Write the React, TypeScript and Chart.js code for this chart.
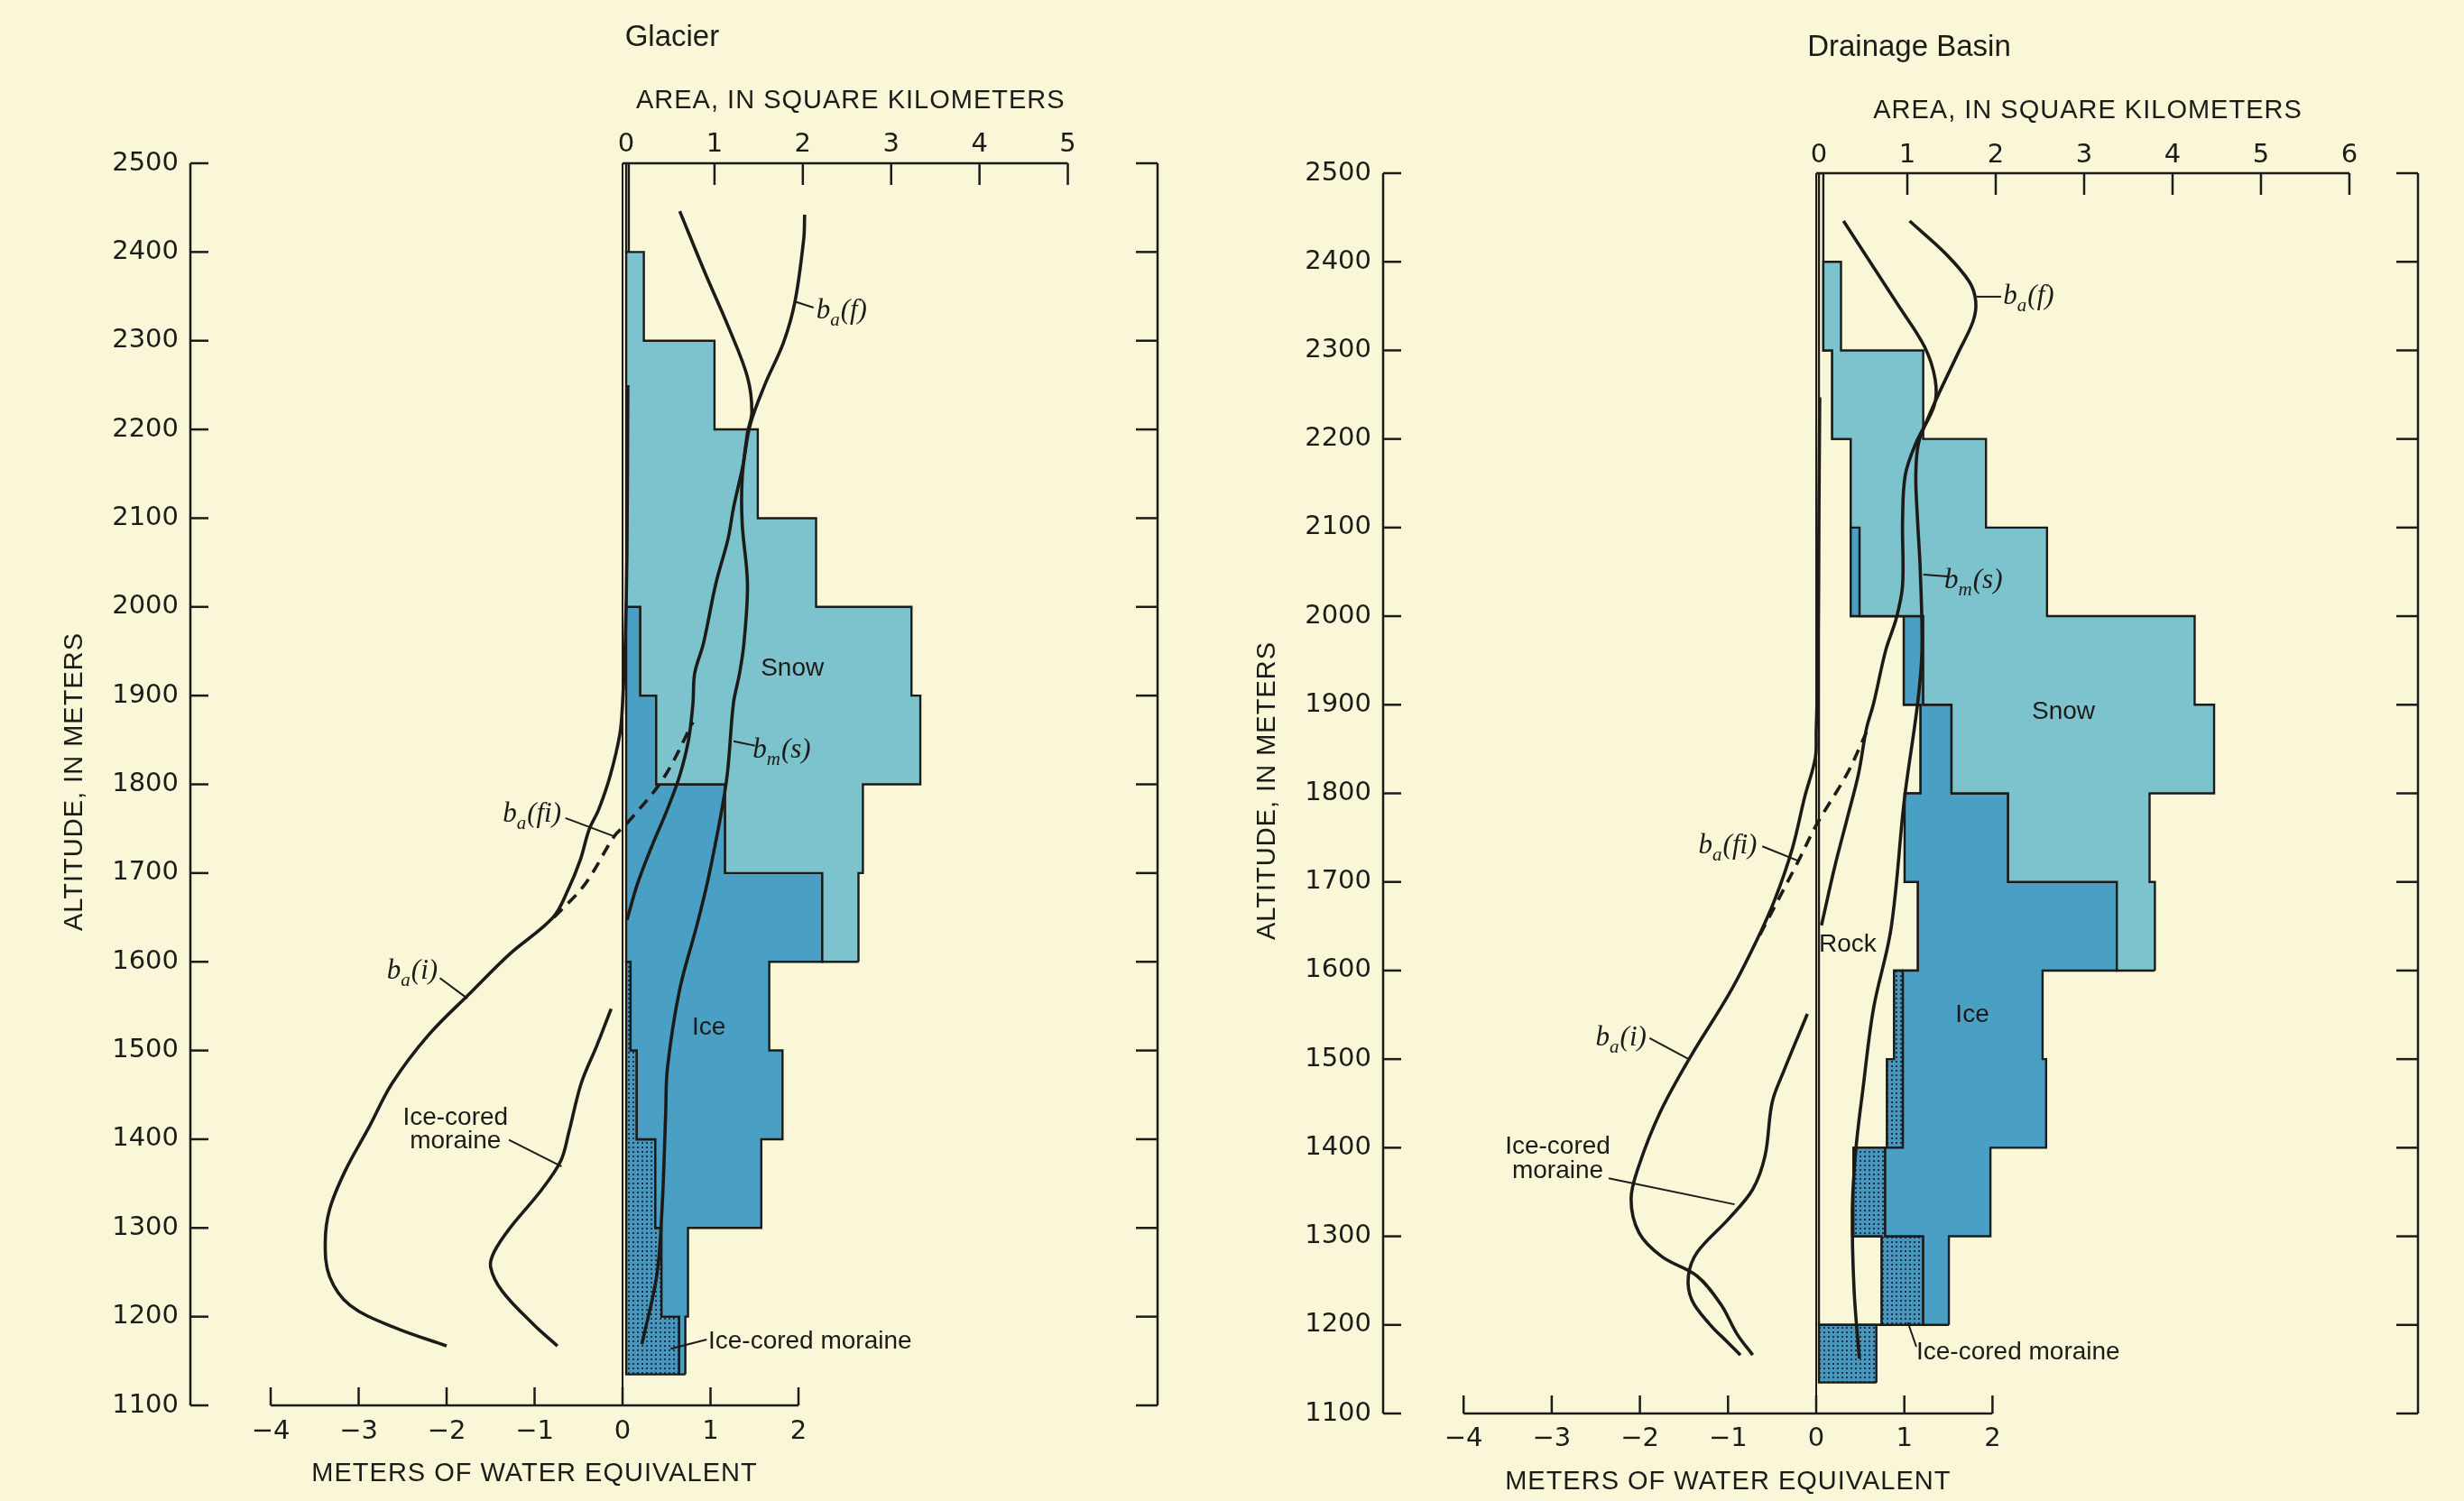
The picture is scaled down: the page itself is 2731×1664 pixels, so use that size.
import React, { useEffect, useRef } from 'react';
import { Chart, registerables } from 'chart.js';

Chart.register(...registerables);

type Pt = [number, number];

// ---------- DATA ----------
// Altitude bands (m)
const BAND_LO = [1135, 1200, 1300, 1400, 1500, 1600, 1700, 1800, 1900, 2000, 2100, 2200, 2300, 2400];
const BAND_HI = [1200, 1300, 1400, 1500, 1600, 1700, 1800, 1900, 2000, 2100, 2200, 2300, 2400, 2500];

// Tick labels
const ALT_TICKS = [1100, 1200, 1300, 1400, 1500, 1600, 1700, 1800, 1900, 2000, 2100, 2200, 2300, 2400, 2500];
const GL_AREA_TICKS = [0, 1, 2, 3, 4, 5];
const DB_AREA_TICKS = [0, 1, 2, 3, 4, 5, 6];
const MWE_TICKS = [-4, -3, -2, -1, 0, 1, 2];

// Glacier: area (km²) per band, stacked from 0
const GL_ROCK = [0, 0, 0, 0, 0, 0, 0, 0, 0, 0, 0, 0, 0, 0.03];
const GL_MORAINE = [0.6, 0.4, 0.33, 0.12, 0.05, 0, 0, 0, 0, 0, 0, 0, 0, 0];
const GL_ICE = [0.07, 0.3, 1.2, 1.65, 1.57, 2.22, 1.12, 0.34, 0.16, 0, 0, 0, 0, 0];
const GL_SNOW = [0, 0, 0, 0, 0, 0.41, 1.56, 2.99, 3.07, 2.15, 1.49, 1.0, 0.2, 0];

// Drainage basin: area (km²) per band, stacked from 0
const DB_ROCK = [0, 0.71, 0.39, 0.77, 0.85, 1.12, 0.97, 1.15, 0.96, 0.36, 0.36, 0.15, 0.05, 0.05];
const DB_MORAINE = [0.65, 0.47, 0.36, 0.18, 0.1, 0, 0, 0, 0, 0, 0, 0, 0, 0];
const DB_ICE = [0, 0.29, 1.19, 1.62, 1.58, 2.25, 1.17, 0.35, 0.22, 0.1, 0, 0, 0, 0];
const DB_SNOW = [0, 0, 0, 0, 0, 0.43, 1.6, 2.97, 3.07, 2.12, 1.53, 1.03, 0.2, 0];

// Glacier balance curves: [meters water equivalent, altitude]
const GL_BA_I: Pt[] = [[-2.0, 1167], [-2.6, 1188], [-3.1, 1213], [-3.33, 1245], [-3.38, 1283], [-3.33, 1321], [-3.15, 1365], [-2.88, 1414], [-2.62, 1463], [-2.21, 1517], [-1.72, 1566], [-1.28, 1609], [-0.79, 1650], [-0.62, 1681], [-0.48, 1715], [-0.38, 1749], [-0.27, 1772], [-0.14, 1810], [-0.03, 1857], [0.0, 1891], [0.03, 1960], [0.05, 2060], [0.06, 2250]];
const GL_BA_FI: Pt[] = [[-0.78, 1650], [-0.43, 1687], [-0.09, 1742], [0.05, 1756], [0.46, 1806], [0.8, 1870]];
const GL_BA_F: Pt[] = [[2.07, 2442], [2.06, 2415], [1.96, 2344], [1.83, 2298], [1.62, 2251], [1.45, 2205], [1.37, 2160], [1.26, 2111], [1.2, 2077], [1.06, 2026], [0.92, 1959], [0.82, 1925], [0.8, 1891], [0.75, 1850], [0.65, 1810], [0.51, 1772], [0.34, 1732], [0.17, 1688], [0.05, 1647]];
const GL_BM_S: Pt[] = [[0.65, 2446], [0.94, 2376], [1.21, 2314], [1.42, 2259], [1.47, 2220], [1.42, 2196], [1.36, 2145], [1.36, 2094], [1.42, 2026], [1.38, 1959], [1.33, 1925], [1.26, 1891], [1.18, 1803], [0.99, 1701], [0.85, 1643], [0.65, 1569], [0.51, 1480], [0.49, 1428], [0.45, 1324], [0.39, 1247], [0.22, 1169]];
const GL_MORAINE_CURVE: Pt[] = [[-0.74, 1167], [-1.01, 1191], [-1.37, 1229], [-1.5, 1256], [-1.46, 1273], [-1.28, 1300], [-0.92, 1343], [-0.7, 1376], [-0.61, 1408], [-0.47, 1463], [-0.29, 1506], [-0.13, 1547]];

// Drainage basin balance curves: [meters water equivalent, altitude]
const DB_BA_I: Pt[] = [[0.04, 2247], [0.03, 2100], [0.02, 1950], [0.0, 1870], [-0.01, 1840], [-0.13, 1796], [-0.27, 1738], [-0.47, 1680], [-0.68, 1633], [-0.98, 1575], [-1.43, 1502], [-1.77, 1440], [-2.01, 1380], [-2.1, 1342], [-2.01, 1304], [-1.75, 1277], [-1.35, 1255], [-1.08, 1223], [-0.9, 1190], [-0.72, 1166]];
const DB_BA_FI: Pt[] = [[-0.64, 1640], [-0.2, 1724], [0.0, 1764], [0.35, 1822], [0.57, 1869]];
const DB_BM_S: Pt[] = [[0.31, 2446], [0.93, 2351], [1.23, 2304], [1.35, 2267], [1.34, 2238], [1.13, 2195], [1.01, 2159], [0.98, 2108], [0.98, 2035], [0.91, 1998], [0.79, 1962], [0.65, 1901], [0.57, 1873], [0.48, 1822], [0.35, 1771], [0.21, 1717], [0.06, 1651]];
const DB_BA_F: Pt[] = [[1.06, 2446], [1.47, 2409], [1.74, 2377], [1.81, 2355], [1.78, 2333], [1.61, 2297], [1.4, 2253], [1.27, 2224], [1.16, 2195], [1.13, 2159], [1.15, 2108], [1.18, 2053], [1.2, 1962], [1.15, 1901], [1.0, 1793], [0.85, 1648], [0.65, 1557], [0.53, 1466], [0.45, 1398], [0.41, 1330], [0.43, 1239], [0.49, 1162]];
const DB_MORAINE_CURVE: Pt[] = [[-0.1, 1551], [-0.37, 1486], [-0.5, 1451], [-0.58, 1391], [-0.72, 1353], [-0.99, 1320], [-1.35, 1282], [-1.45, 1255], [-1.41, 1228], [-1.21, 1201], [-0.99, 1179], [-0.86, 1166]];

// Annotations (in meters / altitude units)
type Word = { text: string; m: number; alt: number; align?: CanvasTextAlign };
type Sym = { sub: string; arg: string; m: number; alt: number };
const GL_WORDS: Word[] = [
  { text: 'Snow', m: 1.93, alt: 1930 },
  { text: 'Ice', m: 0.98, alt: 1526 },
  { text: 'Ice-cored', m: -1.9, alt: 1424 },
  { text: 'moraine', m: -1.9, alt: 1397.5 },
  { text: 'Ice-cored moraine', m: 0.974, alt: 1172, align: 'left' },
];
const GL_SYMBOLS: Sym[] = [
  { sub: 'a', arg: '(i)', m: -2.39, alt: 1589 },
  { sub: 'a', arg: '(fi)', m: -1.03, alt: 1766 },
  { sub: 'a', arg: '(f)', m: 2.49, alt: 2333 },
  { sub: 'm', arg: '(s)', m: 1.81, alt: 1838 },
];
const GL_LEADERS: [Pt, Pt][] = [
  [[-2.077, 1581.7], [-1.764, 1558.7]],
  [[-0.649, 1762], [-0.103, 1741.7]],
  [[1.949, 2344.4], [2.171, 2337.3]],
  [[1.262, 1848.6], [1.505, 1843.6]],
  [[-1.292, 1399.2], [-0.693, 1369.4]],
  [[0.547, 1163.8], [0.957, 1174.2]],
];
const DB_WORDS: Word[] = [
  { text: 'Snow', m: 2.805, alt: 1892 },
  { text: 'Ice', m: 1.771, alt: 1550 },
  { text: 'Rock', m: 0.358, alt: 1629 },
  { text: 'Ice-cored', m: -2.932, alt: 1401 },
  { text: 'moraine', m: -2.932, alt: 1374 },
  { text: 'Ice-cored moraine', m: 1.136, alt: 1168.6, align: 'left' },
];
const DB_SYMBOLS: Sym[] = [
  { sub: 'a', arg: '(f)', m: 2.41, alt: 2360.6 },
  { sub: 'm', arg: '(s)', m: 1.784, alt: 2040 },
  { sub: 'a', arg: '(fi)', m: -1.003, alt: 1740 },
  { sub: 'a', arg: '(i)', m: -2.214, alt: 1523.7 },
];
const DB_LEADERS: [Pt, Pt][] = [
  [[1.822, 2360.6], [2.098, 2360.6]],
  [[1.216, 2047], [1.49, 2044.8]],
  [[-0.611, 1740.2], [-0.202, 1723.7]],
  [[-1.89, 1523.7], [-1.446, 1500]],
  [[-2.354, 1365.4], [-0.926, 1336.1]],
  [[1.04, 1202.8], [1.136, 1175.3]],
];

// ---------- STYLE ----------
const BG = '#FAF7D8';
const SNOW_COLOR = '#7CC3CD';
const ICE_COLOR = '#4A9FC4';
const INK = '#1c1b18';
const SANS = '"Liberation Sans", Arial, sans-serif';
const TICK_FONT = 'DejaVu Sans';
const SERIF = '"Liberation Serif", "DejaVu Serif", serif';

function makeStipple(): CanvasPattern | string {
  const c = document.createElement('canvas');
  c.width = 5;
  c.height = 5;
  const g = c.getContext('2d');
  if (!g) return ICE_COLOR;
  g.fillStyle = '#4896BB';
  g.fillRect(0, 0, 5, 5);
  g.fillStyle = '#1B3550';
  g.fillRect(1, 1, 2, 2);
  return g.createPattern(c, 'repeat') || ICE_COLOR;
}

function layerPolygon(layers: number[][], k: number) {
  const n = BAND_LO.length;
  const leftOf = (i: number) => {
    let s = 0;
    for (let j = 0; j < k; j++) s += layers[j][i];
    return s;
  };
  let first = -1;
  let last = -1;
  for (let i = 0; i < n; i++) {
    if (layers[k][i] > 0) {
      if (first < 0) first = i;
      last = i;
    }
  }
  if (first < 0) return [];
  const pts: { x: number; y: number }[] = [];
  for (let i = first; i <= last; i++) {
    const r = leftOf(i) + layers[k][i];
    pts.push({ x: r, y: BAND_LO[i] }, { x: r, y: BAND_HI[i] });
  }
  for (let i = last; i >= first; i--) {
    const l = leftOf(i);
    pts.push({ x: l, y: BAND_HI[i] }, { x: l, y: BAND_LO[i] });
  }
  pts.push(pts[0]);
  return pts;
}

interface PanelSpec {
  title: string;
  titleArea: number;
  areaTicks: number[];
  layers: number[][];
  curves: { pts: Pt[]; dash?: boolean }[];
  words: Word[];
  symbols: Sym[];
  leaders: [Pt, Pt][];
  xA: { min: number; max: number };
  xM: { min: number; max: number };
  padding: { left: number; right: number; top: number; bottom: number };
  topPad: number;
  botPad: number;
}

// axis box sizes (px) so that tick labels sit inside their scale boxes
const Y_BOX = 120;
const X_BOX = 60;

const GLACIER: PanelSpec = {
  title: 'Glacier',
  titleArea: 0.52,
  areaTicks: GL_AREA_TICKS,
  layers: [GL_ROCK, GL_MORAINE, GL_ICE, GL_SNOW],
  curves: [
    { pts: GL_BA_I },
    { pts: GL_BA_FI, dash: true },
    { pts: GL_BA_F },
    { pts: GL_BM_S },
    { pts: GL_MORAINE_CURVE },
  ],
  words: GL_WORDS,
  symbols: GL_SYMBOLS,
  leaders: GL_LEADERS,
  xA: { min: -4.934, max: 6.016 },
  xM: { min: -4.913, max: 6.082 },
  padding: { left: 211 - Y_BOX, right: 82, top: 181 - X_BOX, bottom: 106 - X_BOX },
  topPad: 3,
  botPad: 12,
};

const BASIN: PanelSpec = {
  title: 'Drainage Basin',
  titleArea: 1.02,
  areaTicks: DB_AREA_TICKS,
  layers: [DB_ROCK, DB_MORAINE, DB_ICE, DB_SNOW],
  curves: [
    { pts: DB_BA_I },
    { pts: DB_BA_FI, dash: true },
    { pts: DB_BA_F },
    { pts: DB_BM_S },
    { pts: DB_MORAINE_CURVE },
  ],
  words: DB_WORDS,
  symbols: DB_SYMBOLS,
  leaders: DB_LEADERS,
  xA: { min: -4.929, max: 6.776 },
  xM: { min: -4.913, max: 6.827 },
  padding: { left: 168 - Y_BOX, right: 51, top: 192 - X_BOX, bottom: 97 - X_BOX },
  topPad: 2,
  botPad: 11,
};

function drawSymbol(ctx: CanvasRenderingContext2D, cx: number, cy: number, sub: string, arg: string) {
  const fMain = `italic 31px ${SERIF}`;
  const fSub = `italic 21px ${SERIF}`;
  ctx.font = fMain;
  const wb = ctx.measureText('b').width;
  const wa = ctx.measureText(arg).width;
  ctx.font = fSub;
  const ws = ctx.measureText(sub).width + 1;
  let x = cx - (wb + ws + wa) / 2;
  const base = cy + 8;
  ctx.textAlign = 'left';
  ctx.textBaseline = 'alphabetic';
  ctx.font = fMain;
  ctx.fillText('b', x, base);
  x += wb;
  ctx.font = fSub;
  ctx.fillText(sub, x, base + 8);
  x += ws;
  ctx.font = fMain;
  ctx.fillText(arg, x, base);
}

function Panel({ spec, left, width }: { spec: PanelSpec; left: number; width: number }) {
  const ref = useRef<HTMLCanvasElement>(null);
  useEffect(() => {
    const canvas = ref.current;
    if (!canvas) return;
    const stipple = makeStipple();
    const fills: (string | CanvasPattern)[] = ['rgba(0,0,0,0)', stipple, ICE_COLOR, SNOW_COLOR];
    const polys = spec.layers.map((_, k) => ({
      type: 'line' as const,
      data: layerPolygon(spec.layers, k),
      xAxisID: 'xA',
      yAxisID: 'y',
      borderColor: INK,
      borderWidth: 2.4,
      backgroundColor: fills[k],
      fill: 'shape' as const,
      tension: 0,
      pointRadius: 0,
      order: 10 - k,
    }));
    const curves = spec.curves.map((c) => ({
      type: 'line' as const,
      data: c.pts.map(([m, a]) => ({ x: m, y: a })),
      xAxisID: 'xM',
      yAxisID: 'y',
      borderColor: INK,
      borderWidth: 3.6,
      borderDash: c.dash ? [13, 9] : [],
      fill: false,
      tension: 0.35,
      pointRadius: 0,
      order: 0,
    }));

    const decor = {
      id: 'decor',
      afterDraw(chart: any) {
        const { ctx, chartArea: ca, scales } = chart;
        const y = scales.y;
        const xA = scales.xA;
        const xM = scales.xM;
        const yTop = y.getPixelForValue(ALT_TICKS[ALT_TICKS.length - 1]);
        const yBot = y.getPixelForValue(ALT_TICKS[0]);
        ctx.save();
        ctx.strokeStyle = INK;
        ctx.fillStyle = INK;
        ctx.lineCap = 'butt';
        const seg = (x1: number, y1: number, x2: number, y2: number, w: number) => {
          ctx.lineWidth = w;
          ctx.beginPath();
          ctx.moveTo(x1, y1);
          ctx.lineTo(x2, y2);
          ctx.stroke();
        };
        // left altitude axis
        seg(ca.left, yTop, ca.left, yBot, 2.5);
        ALT_TICKS.forEach((v) => {
          const p = y.getPixelForValue(v);
          seg(ca.left, p, ca.left + 20, p, 2.5);
        });
        // right altitude axis
        seg(ca.right, yTop, ca.right, yBot, 2.5);
        ALT_TICKS.forEach((v) => {
          const p = y.getPixelForValue(v);
          seg(ca.right, p, ca.right - 24, p, 2.5);
        });
        // zero line
        const z = xM.getPixelForValue(0);
        seg(z, yTop, z, yBot, 2);
        // top area axis
        const at = spec.areaTicks;
        seg(z, yTop, xA.getPixelForValue(at[at.length - 1]), yTop, 2.5);
        at.forEach((v) => {
          if (v === 0) return;
          const p = xA.getPixelForValue(v);
          seg(p, yTop, p, yTop + 24, 2.5);
        });
        // bottom water-equivalent axis
        seg(xM.getPixelForValue(MWE_TICKS[0]), yBot, xM.getPixelForValue(MWE_TICKS[MWE_TICKS.length - 1]), yBot, 2.5);
        MWE_TICKS.forEach((v) => {
          const p = xM.getPixelForValue(v);
          seg(p, yBot, p, yBot - 20, 2.5);
        });
        // leaders
        spec.leaders.forEach(([a, b]) => {
          seg(xM.getPixelForValue(a[0]), y.getPixelForValue(a[1]), xM.getPixelForValue(b[0]), y.getPixelForValue(b[1]), 2);
        });
        // words
        ctx.font = `28px ${SANS}`;
        ctx.textBaseline = 'middle';
        spec.words.forEach((w) => {
          ctx.textAlign = w.align || 'center';
          ctx.fillText(w.text, xM.getPixelForValue(w.m), y.getPixelForValue(w.alt));
        });
        // symbols
        spec.symbols.forEach((s) => {
          drawSymbol(ctx, xM.getPixelForValue(s.m), y.getPixelForValue(s.alt), s.sub, s.arg);
        });
        // titles
        ctx.textAlign = 'center';
        ctx.textBaseline = 'middle';
        ctx.font = `33px ${SANS}`;
        ctx.fillText(spec.title, xA.getPixelForValue(spec.titleArea), ca.top - 139);
        ctx.font = `29px ${SANS}`;
        (ctx as any).letterSpacing = '1px';
        const aMid = (xA.getPixelForValue(at[0]) + xA.getPixelForValue(at[at.length - 1])) / 2;
        ctx.fillText('AREA, IN SQUARE KILOMETERS', aMid + 4, ca.top - 69);
        const mMid = (xM.getPixelForValue(MWE_TICKS[0]) + xM.getPixelForValue(MWE_TICKS[MWE_TICKS.length - 1])) / 2;
        ctx.fillText('METERS OF WATER EQUIVALENT', mMid, ca.bottom + 76);
        ctx.save();
        ctx.translate(ca.left - 128, (ca.top + ca.bottom) / 2 - 3);
        ctx.rotate(-Math.PI / 2);
        ctx.fillText('ALTITUDE, IN METERS', 0, 0);
        ctx.restore();
        (ctx as any).letterSpacing = '0px';
        ctx.restore();
      },
    };

    const tickFont = { family: TICK_FONT, size: 29 };
    const chart = new Chart(canvas, {
      type: 'line',
      data: { datasets: [...curves, ...polys] as any },
      options: {
        responsive: false,
        animation: false,
        events: [],
        layout: { padding: spec.padding },
        plugins: { legend: { display: false }, tooltip: { enabled: false } },
        scales: {
          y: {
            type: 'linear',
            axis: 'y',
            position: 'left',
            min: ALT_TICKS[0],
            max: ALT_TICKS[ALT_TICKS.length - 1],
            afterBuildTicks: (ax: any) => {
              ax.ticks = ALT_TICKS.map((v) => ({ value: v }));
            },
            afterFit: (ax: any) => {
              ax.width = Y_BOX;
            },
            grid: { display: false, drawTicks: false },
            border: { display: false },
            ticks: { font: tickFont, color: INK, padding: 13, callback: (v: any) => String(v) },
          },
          xA: {
            type: 'linear',
            axis: 'x',
            position: 'top',
            min: spec.xA.min,
            max: spec.xA.max,
            afterBuildTicks: (ax: any) => {
              ax.ticks = spec.areaTicks.map((v) => ({ value: v }));
            },
            afterFit: (ax: any) => {
              ax.height = X_BOX;
            },
            grid: { display: false, drawTicks: false },
            border: { display: false },
            ticks: { font: tickFont, color: INK, padding: spec.topPad, maxRotation: 0, autoSkip: false, callback: (v: any) => String(v) },
          },
          xM: {
            type: 'linear',
            axis: 'x',
            position: 'bottom',
            min: spec.xM.min,
            max: spec.xM.max,
            afterBuildTicks: (ax: any) => {
              ax.ticks = MWE_TICKS.map((v) => ({ value: v }));
            },
            afterFit: (ax: any) => {
              ax.height = X_BOX;
            },
            grid: { display: false, drawTicks: false },
            border: { display: false },
            ticks: {
              font: tickFont,
              color: INK,
              padding: spec.botPad,
              maxRotation: 0,
              autoSkip: false,
              callback: (v: any) => (Number(v) < 0 ? '\u2212' + Math.abs(Number(v)) : String(v)),
            },
          },
        },
      },
      plugins: [decor],
    } as any);
    return () => chart.destroy();
  }, [spec]);
  return (
    <canvas
      ref={ref}
      width={width}
      height={1664}
      style={{ position: 'absolute', left, top: 0, width, height: 1664 }}
    />
  );
}

export default function App() {
  return (
    <div style={{ position: 'absolute', left: 0, top: 0, width: 2731, height: 1664, background: BG, overflow: 'hidden' }}>
      <Panel spec={GLACIER} left={0} width={1365} />
      <Panel spec={BASIN} left={1365} width={1366} />
    </div>
  );
}
